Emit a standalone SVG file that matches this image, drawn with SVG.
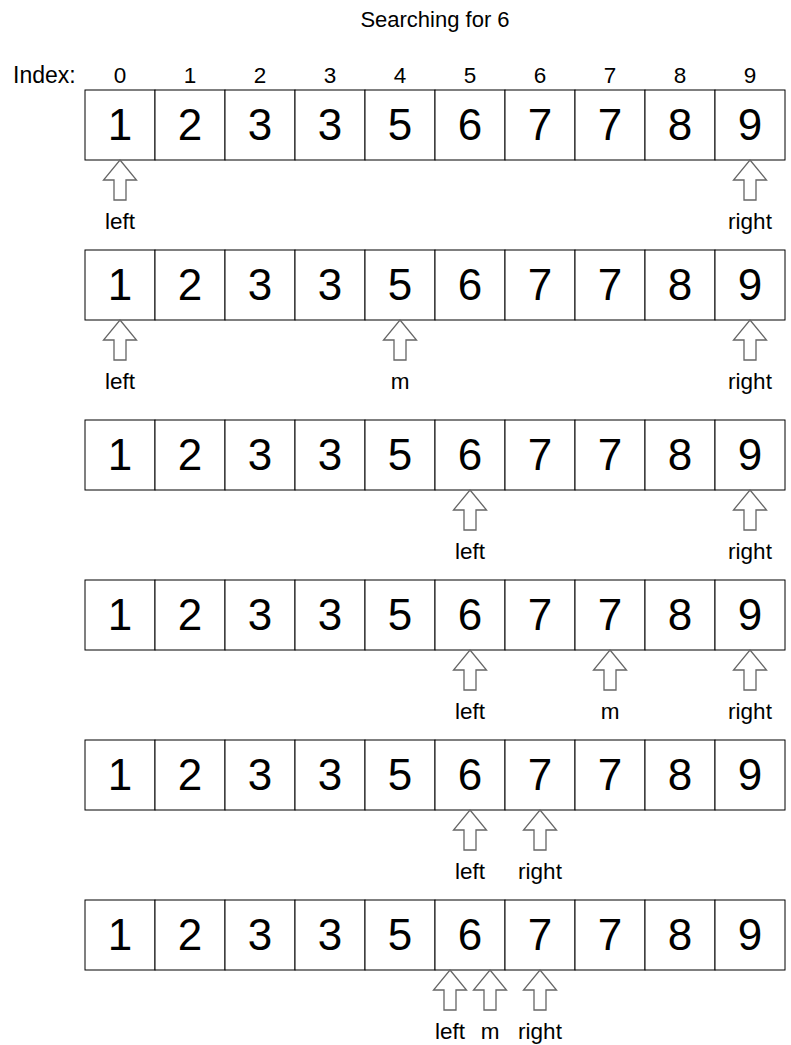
<svg xmlns="http://www.w3.org/2000/svg" xmlns:xlink="http://www.w3.org/1999/xlink" width="791" height="1045" viewBox="0 0 791 1045">
<style>
text{font-family:"Liberation Sans",Arial,sans-serif;fill:#000}
.t{font-size:22.5px;text-anchor:middle}
.n{font-size:44px;text-anchor:middle}
.c{fill:#fff;stroke:#000;stroke-width:1}
.a{fill:#fff;stroke:#666;stroke-width:1.3}
</style>
<defs>
<polygon id="arr" class="a" points="0,0 16.5,20 6,20 6,40 -6,40 -6,20 -16.5,20"/>
<g id="row">
<rect class="c" x="85" y="0" width="70" height="70"/>
<rect class="c" x="155" y="0" width="70" height="70"/>
<rect class="c" x="225" y="0" width="70" height="70"/>
<rect class="c" x="295" y="0" width="70" height="70"/>
<rect class="c" x="365" y="0" width="70" height="70"/>
<rect class="c" x="435" y="0" width="70" height="70"/>
<rect class="c" x="505" y="0" width="70" height="70"/>
<rect class="c" x="575" y="0" width="70" height="70"/>
<rect class="c" x="645" y="0" width="70" height="70"/>
<rect class="c" x="715" y="0" width="70" height="70"/>
<text class="n" x="120" y="50">1</text>
<text class="n" x="190" y="50">2</text>
<text class="n" x="260" y="50">3</text>
<text class="n" x="330" y="50">3</text>
<text class="n" x="400" y="50">5</text>
<text class="n" x="470" y="50">6</text>
<text class="n" x="540" y="50">7</text>
<text class="n" x="610" y="50">7</text>
<text class="n" x="680" y="50">8</text>
<text class="n" x="750" y="50">9</text>
</g>
</defs>
<text id="title" class="t" x="435" y="27" style="font-size:22px">Searching for 6</text>
<g id="index">
<text x="13" y="83" style="font-size:23px">Index:</text>
<text class="t" x="120" y="83">0</text>
<text class="t" x="190" y="83">1</text>
<text class="t" x="260" y="83">2</text>
<text class="t" x="330" y="83">3</text>
<text class="t" x="400" y="83">4</text>
<text class="t" x="470" y="83">5</text>
<text class="t" x="540" y="83">6</text>
<text class="t" x="610" y="83">7</text>
<text class="t" x="680" y="83">8</text>
<text class="t" x="750" y="83">9</text>
</g>
<g id="step1">
<use xlink:href="#row" x="0" y="90"/>
<use xlink:href="#arr" x="120" y="160"/><use xlink:href="#arr" x="750" y="160"/>
<text class="t" x="120" y="229">left</text><text class="t" x="750" y="229">right</text>
</g>
<g id="step2">
<use xlink:href="#row" x="0" y="250"/>
<use xlink:href="#arr" x="120" y="320"/><use xlink:href="#arr" x="400" y="320"/><use xlink:href="#arr" x="750" y="320"/>
<text class="t" x="120" y="389">left</text><text class="t" x="400" y="389">m</text><text class="t" x="750" y="389">right</text>
</g>
<g id="step3">
<use xlink:href="#row" x="0" y="420"/>
<use xlink:href="#arr" x="470" y="490"/><use xlink:href="#arr" x="750" y="490"/>
<text class="t" x="470" y="559">left</text><text class="t" x="750" y="559">right</text>
</g>
<g id="step4">
<use xlink:href="#row" x="0" y="580"/>
<use xlink:href="#arr" x="470" y="650"/><use xlink:href="#arr" x="610" y="650"/><use xlink:href="#arr" x="750" y="650"/>
<text class="t" x="470" y="719">left</text><text class="t" x="610" y="719">m</text><text class="t" x="750" y="719">right</text>
</g>
<g id="step5">
<use xlink:href="#row" x="0" y="740"/>
<use xlink:href="#arr" x="470" y="810"/><use xlink:href="#arr" x="540" y="810"/>
<text class="t" x="470" y="879">left</text><text class="t" x="540" y="879">right</text>
</g>
<g id="step6">
<use xlink:href="#row" x="0" y="900"/>
<use xlink:href="#arr" x="450" y="970"/><use xlink:href="#arr" x="490" y="970"/><use xlink:href="#arr" x="540" y="970"/>
<text class="t" x="450" y="1039">left</text><text class="t" x="490" y="1039">m</text><text class="t" x="540" y="1039">right</text>
</g>
</svg>
